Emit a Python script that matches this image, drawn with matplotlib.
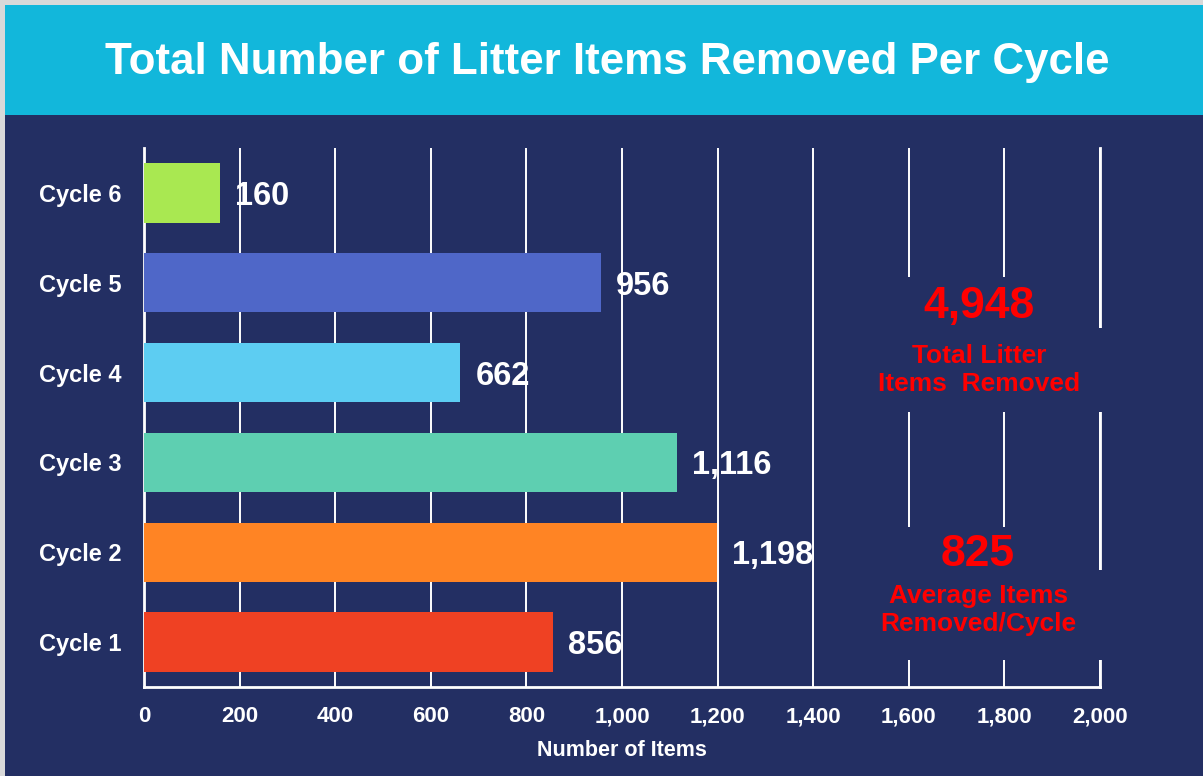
import matplotlib.pyplot as plt
from matplotlib.patches import Rectangle
from matplotlib.ticker import FuncFormatter

cycles = ["Cycle 1", "Cycle 2", "Cycle 3", "Cycle 4", "Cycle 5", "Cycle 6"]
items = [856, 1198, 1116, 662, 956, 160]
bar_colors = ["#EF4123", "#FF8424", "#5ECFB1", "#5DCDF2", "#4F67C8", "#A9E851"]
x_ticks = [0, 200, 400, 600, 800, 1000, 1200, 1400, 1600, 1800, 2000]

total = sum(items)
average = round(total / len(items))

NAVY = "#232F63"
CYAN = "#12B7DB"
RED = "#FF0000"
FONT = "Liberation Sans"

fig = plt.figure(figsize=(12.03, 7.76), dpi=100)
fig.patch.set_facecolor("#D9D9D9")

# background panels: cyan title banner and navy body
fig.patches.append(Rectangle((5 / 1203, 0), 1, 661 / 776, transform=fig.transFigure,
                             facecolor=NAVY, edgecolor="none", zorder=-2))
fig.patches.append(Rectangle((5 / 1203, 661 / 776), 1, 110 / 776, transform=fig.transFigure,
                             facecolor=CYAN, edgecolor="none", zorder=-2))

fig.text(0.505, 0.92, "Total Number of Litter Items Removed Per Cycle", color="white",
         fontsize=31.6, fontweight="bold", family=FONT, ha="center", va="center")

ax = fig.add_axes([144 / 1203, 89 / 776, 956 / 1203, 539 / 776])
ax.set_zorder(2)
ax.set_facecolor(NAVY)

ypos = list(range(len(cycles)))
ax.barh(ypos, items, height=0.66, color=bar_colors, zorder=3)

for y, v in zip(ypos, items):
    ax.annotate(f"{v:,}", xy=(v, y), xytext=(15, 0), textcoords="offset pixels",
                color="white", fontsize=23.5, fontweight="bold", family=FONT,
                ha="left", va="center_baseline", zorder=5)

ax.set_xlim(0, 2000)
ax.set_ylim(-0.5, 5.5)
ax.set_xticks(x_ticks)
ax.xaxis.set_major_formatter(FuncFormatter(lambda v, p: f"{int(v):,}"))
ax.set_yticks(ypos)
ax.set_yticklabels(cycles)
ax.tick_params(axis="both", length=0, colors="white")
ax.tick_params(axis="x", pad=14)
ax.tick_params(axis="y", pad=16)
for lab in ax.get_xticklabels():
    lab.set_family(FONT)
    lab.set_fontweight("bold")
    lab.set_fontsize(16)
for lab in ax.get_yticklabels():
    lab.set_family(FONT)
    lab.set_fontweight("bold")
    lab.set_fontsize(17)

ax.set_xlabel("Number of Items", color="white", fontsize=15.5, fontweight="bold",
              family=FONT, labelpad=9)

ax.grid(axis="x", color="white", linewidth=1.4, zorder=1)
ax.set_axisbelow(True)
for side in ["left", "bottom", "right"]:
    ax.spines[side].set_color("white")
    ax.spines[side].set_linewidth(2)
ax.spines["top"].set_visible(False)

# summary boxes on the right, hiding the gridlines behind them
ax.add_patch(Rectangle((1510, 2.56), 470, 1.5, facecolor=NAVY, edgecolor="none", zorder=2))
ax.add_patch(Rectangle((1510, -0.2), 470, 1.48, facecolor=NAVY, edgecolor="none", zorder=2))
# gaps in the right border
ax.add_patch(Rectangle((1985, 2.56), 30, 0.94, facecolor=NAVY, edgecolor="none",
                       zorder=2.6, clip_on=False))
ax.add_patch(Rectangle((1985, -0.2), 30, 1.0, facecolor=NAVY, edgecolor="none",
                       zorder=2.6, clip_on=False))

ax.text(1747, 3.74, f"{total:,}", color=RED, fontsize=32, fontweight="bold",
        family=FONT, ha="center", va="center", zorder=4)
ax.text(1747, 3.03, "Total Litter\nItems  Removed", color=RED, fontsize=19, fontweight="bold",
        family=FONT, ha="center", va="center", linespacing=1.25, zorder=4)

ax.text(1745, 0.97, f"{average:,}", color=RED, fontsize=32, fontweight="bold",
        family=FONT, ha="center", va="center", zorder=4)
ax.text(1745, 0.357, "Average Items\nRemoved/Cycle", color=RED, fontsize=19, fontweight="bold",
        family=FONT, ha="center", va="center", linespacing=1.25, zorder=4)

fig.savefig("out.png", dpi=100, facecolor=fig.get_facecolor())
